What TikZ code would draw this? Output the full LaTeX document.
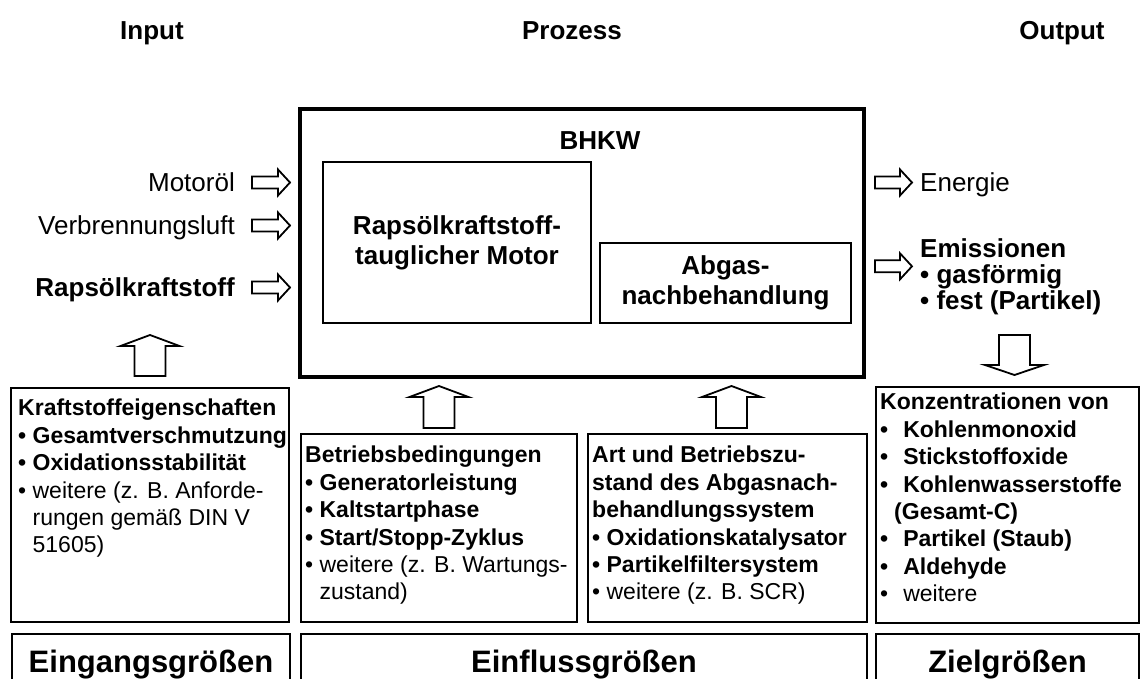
\documentclass[tikz,border=0pt]{standalone}
\usepackage{fontspec}
\setmainfont{Liberation Sans}
\usetikzlibrary{calc,positioning}

% Blockpfeile (Umriss) zwischen zwei Punkten
\newcommand{\harrow}[2]{%
  \draw[blk] let \p1=(#1), \p2=(#2) in
    (\x1,\y1+6) -- (\x2-12,\y1+6) -- (\x2-12,\y1+13) -- (\x2,\y1)
    -- (\x2-12,\y1-13) -- (\x2-12,\y1-6) -- (\x1,\y1-6) -- cycle;}
\newcommand{\varrow}[3]{%
  \draw[blk] let \p1=(#1), \p2=(#2) in
    (\x1-15.5,\y1) -- (\x1-15.5,{\y2-(#3)}) -- (\x1-29.5,{\y2-(#3)}) -- (\x1,\y2)
    -- (\x1+29.5,{\y2-(#3)}) -- (\x1+15.5,{\y2-(#3)}) -- (\x1+15.5,\y1) -- cycle;}

\tikzset{
  box/.style={draw, rectangle, line width=1.5pt, inner sep=0pt, outer sep=0pt, anchor=north west},
  blk/.style={draw, line width=1.8pt, line join=miter},
  lbl/.style={inner sep=0pt, text height=19pt, text depth=0pt, font=\fontsize{26}{26}\selectfont},
  head/.style={inner sep=0pt, anchor=base, font=\fontsize{26}{30}\selectfont\bfseries},
  list/.style={inner sep=0pt, anchor=north west, align=left, font=\fontsize{23}{27.4}\selectfont},
  big/.style={inner sep=0pt, anchor=base, font=\fontsize{31}{36}\selectfont\bfseries},
}

\begin{document}
\begin{tikzpicture}[x=1pt,y=-1pt]
\useasboundingbox (0,0) rectangle (1141,679);
\clip (0,0) rectangle (1141,679);

% Ueberschriften
\node[head] (tin) at (152,40) {Input};
\node[head] (tproz) at (572,40) {Prozess};
\node[head] (tout) at (1062,40) {Output};

% BHKW
\node[box, line width=4pt, minimum width=564pt, minimum height=268pt] (bhkw) at (300,109) {};
\node[head] (bhkwT) at (600,150) {BHKW};
\node[box, line width=2pt, minimum width=268pt, minimum height=161pt, align=center,
  font=\fontsize{26}{30}\selectfont\bfseries] (motor) at (323,162) {Rapsölkraftstoff-\\tauglicher Motor};
\node[box, line width=2pt, minimum width=251pt, minimum height=80pt, align=center,
  font=\fontsize{26}{30}\selectfont\bfseries] (abgas) at (600,243) {Abgas-\\nachbehandlung};

% Input
\foreach \nm/\y/\txt in {oil/192/Motoröl, air/235/Verbrennungsluft, fuel/297/\textbf{Rapsölkraftstoff}} {
  \node[lbl, anchor=base east] (\nm) at (235,\y) {\txt};
  \harrow{$(\nm.east)+(17,0)$}{$(\nm.east-|bhkw.west)+(-10,0)$}
}

% Output
\node[lbl, anchor=base west] (energy) at (920,192) {Energie};
\harrow{$(energy.west-|bhkw.east)+(11,0)$}{$(energy.west)+(-8,0)$}
\node[list, font=\fontsize{26}{26}\selectfont\bfseries] (emis) at (920,238)
  {Emissionen\\• gasförmig\\• fest (Partikel)};
\harrow{$(emis.west-|bhkw.east)+(11,-10)$}{$(emis.west)+(-8,-10)$}

% Eingangsgroessen
\node[box, minimum width=278pt, minimum height=234pt] (kraft) at (11,388) {};
\node[list] (kraftT) at ($(kraft.north west)+(7,11)$)
  {\textbf{Kraftstoffeigenschaften}\\
   \textbf{• Gesamtverschmutzung}\\
   \textbf{• Oxidationsstabilität}\\
   • weitere (z. B. Anforde-\\
   \hphantom{• }rungen gemäß DIN V\\
   \hphantom{• }51605)};
\varrow{$(kraft.north)+(0,-12)$}{$(kraft.north)+(0,-53)$}{11}

% Einflussgroessen
\node[box, minimum width=276pt, minimum height=188pt] (betrieb) at (301,434) {};
\node[list] (betriebT) at ($(betrieb.north west)+(4,12)$)
  {\textbf{Betriebsbedingungen}\\
   \textbf{• Generatorleistung}\\
   \textbf{• Kaltstartphase}\\
   \textbf{• Start/Stopp-Zyklus}\\
   • weitere (z. B. Wartungs-\\
   \hphantom{• }zustand)};
\varrow{$(betrieb.north)+(0,-6)$}{$(betrieb.north|-bhkw.south)+(0,9)$}{11}

\node[box, minimum width=279pt, minimum height=188pt] (art) at (588,434) {};
\node[list] (artT) at ($(art.north west)+(4,12)$)
  {\textbf{Art und Betriebszu-}\\
   \textbf{stand des Abgasnach-}\\
   \textbf{behandlungssystem}\\
   \textbf{• Oxidationskatalysator}\\
   \textbf{• Partikelfiltersystem}\\
   • weitere (z. B. SCR)};
\varrow{$(art.north)+(4,-6)$}{$(art.north|-bhkw.south)+(4,9)$}{11}

% Zielgroessen
\node[box, minimum width=263pt, minimum height=236pt] (konz) at (876,387) {};
\node[list] (konzT) at ($(konz.north west)+(4,6)$)
  {\textbf{Konzentrationen von}\\
   \textbf{•\hspace*{15pt}Kohlenmonoxid}\\
   \textbf{•\hspace*{15pt}Stickstoffoxide}\\
   \textbf{•\hspace*{15pt}Kohlenwasserstoffe}\\
   \hspace*{14pt}\textbf{(Gesamt-C)}\\
   \textbf{•\hspace*{15pt}Partikel (Staub)}\\
   \textbf{•\hspace*{15pt}Aldehyde}\\
   •\hspace*{15pt}weitere};
\varrow{$(konz.north)+(7,-52)$}{$(konz.north)+(7,-12)$}{-10}

% Fusszeile
\node[box, line width=2.5pt, minimum width=278pt, minimum height=80pt] (eingang) at (12,634) {};
\node[box, line width=2.5pt, minimum width=566pt, minimum height=80pt] (einfluss) at (301,634) {};
\node[box, line width=2.5pt, minimum width=263pt, minimum height=80pt] (ziel) at (876,634) {};
\node[big] (eingangT) at (eingang.north|-0,672) {Eingangsgrößen};
\node[big] (einflussT) at (einfluss.north|-0,672) {Einflussgrößen};
\node[big] (zielT) at (ziel.north|-0,672) {Zielgrößen};
\end{tikzpicture}
\end{document}
